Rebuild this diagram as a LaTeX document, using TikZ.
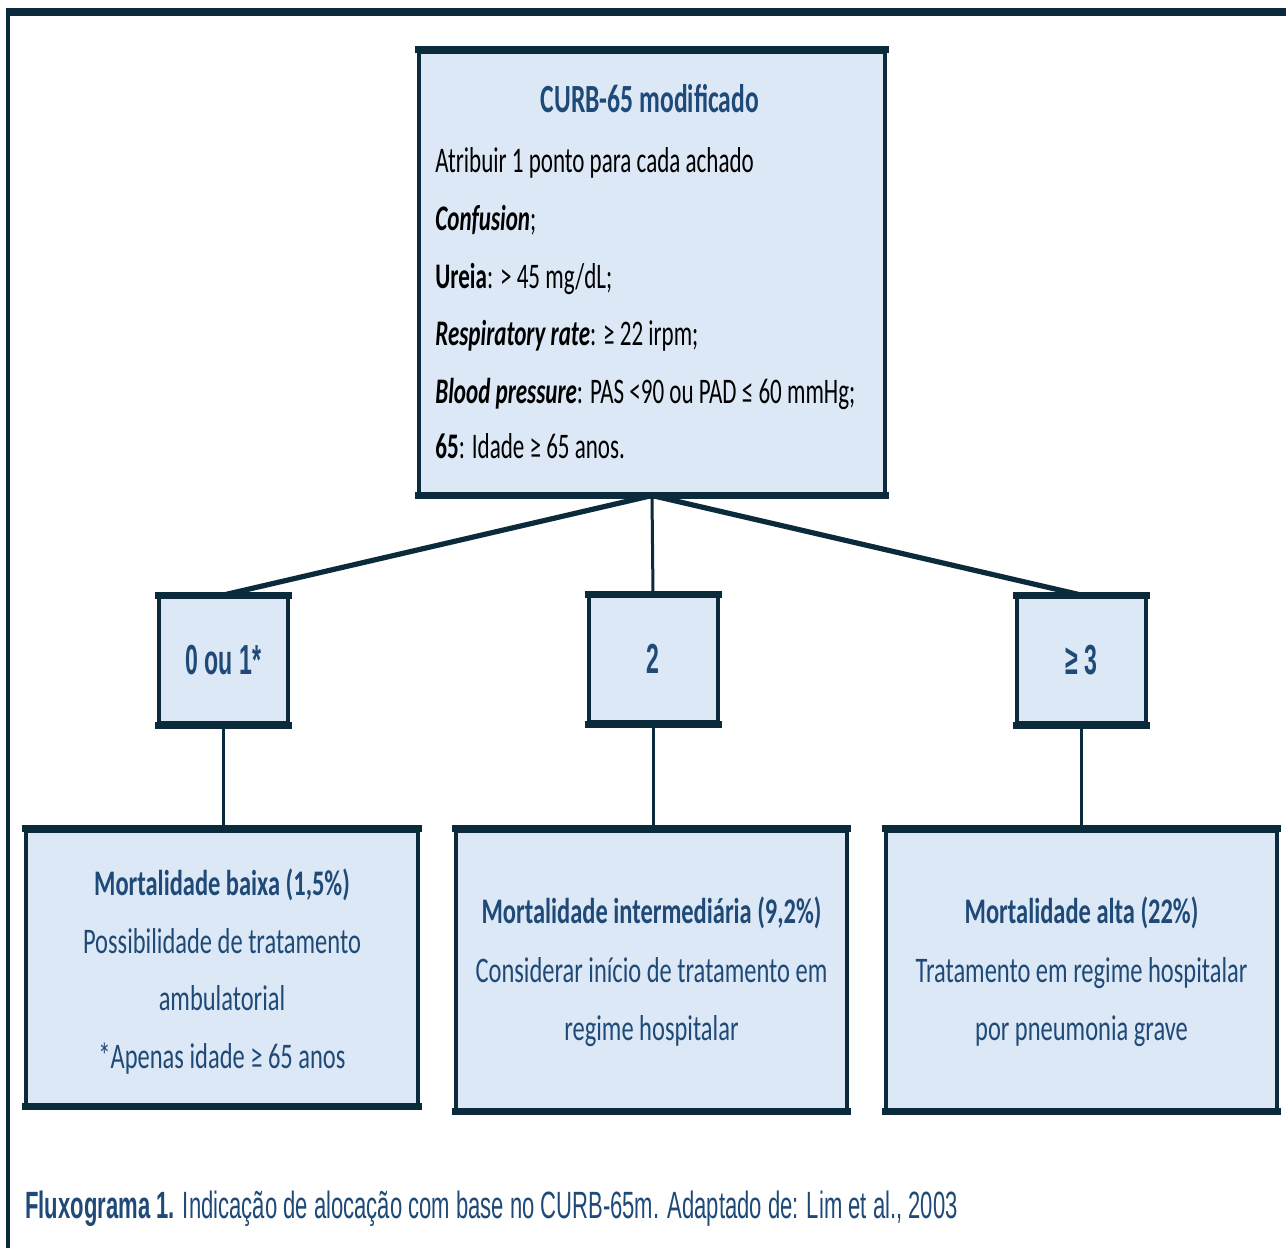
\documentclass[tikz,border=0pt]{standalone}
\usepackage{fontspec}
\setmainfont{Carlito}[FakeStretch=0.64]
\newfontfamily\bfont{Carlito}[FakeStretch=0.68]
\newfontfamily\arialn{Liberation Sans}[FakeStretch=0.55]
\newfontfamily\arialc{Liberation Sans}[FakeStretch=0.58]
\definecolor{navy}{HTML}{0B2A3B}
\definecolor{fillb}{HTML}{DCE8F5}
\definecolor{tblue}{HTML}{1F4A78}
\begin{document}
\begin{tikzpicture}[x=0.5pt,y=-0.5pt,
  box/.style={draw=navy,fill=fillb,line width=2pt,inner sep=0pt},
  hline/.style={draw=navy,line width=3.5pt,shorten <=-1pt,shorten >=-1pt},
  conn/.style={draw=navy,line width=1.5pt},
  diag/.style={draw=navy,line width=2.6pt},
  body/.style={inner sep=0pt,font=\fontsize{18}{20}\selectfont,text=black},
  toptitle/.style={inner sep=0pt,font=\fontsize{20}{22}\selectfont\bfseries,text=tblue},
  ttl/.style={inner sep=0pt,font=\bfont\fontsize{18}{20}\selectfont\bfseries,text=tblue},
  btxt/.style={inner sep=0pt,font=\bfont\fontsize{18}{20}\selectfont,text=tblue},
  lbl/.style={inner sep=0pt,font=\arialn\bfseries\fontsize{21}{24}\selectfont,text=tblue},
  captxt/.style={inner sep=0pt,font=\arialc\fontsize{19}{22}\selectfont,text=tblue}
]
\useasboundingbox (0,0) rectangle (1286,1248);
\fill[white] (0,0) rectangle (1286,1248);
% frame
\draw[navy,line width=4pt] (6,12) -- (1286,12);
\draw[navy,line width=2pt] (8,12) -- (8,1248);
% boxes
\node[box,minimum width=233pt,minimum height=221pt] (top) at (652,272.5) {};
\node[box,minimum width=64.5pt,minimum height=63pt] (s1) at (223.5,660) {};
\node[box,minimum width=64.5pt,minimum height=63pt] (s2) at (653,659) {};
\node[box,minimum width=64.5pt,minimum height=63pt] (s3) at (1081,660) {};
\node[box,minimum width=196pt,minimum height=137pt] (b1) at (222,967.5) {};
\node[box,minimum width=195.5pt,minimum height=139.5pt] (b2) at (651.5,970) {};
\node[box,minimum width=195.5pt,minimum height=139.5pt] (b3) at (1081.5,970) {};
\foreach \n in {top,s1,s2,s3,b1,b2,b3} {
  \draw[hline] (\n.north west) -- (\n.north east);
  \draw[hline] (\n.south west) -- (\n.south east);
}
% connectors
\draw[diag] (top.south) -- (s1.north);
\draw[conn] (top.south) -- (s2.north);
\draw[diag] (top.south) -- (s3.north);
\draw[conn] (s1.south) -- (s1.south |- b1.north);
\draw[conn] (s2.south) -- (s2.south |- b2.north);
\draw[conn] (s3.south) -- (s3.south |- b3.north);
% top box text
\node[toptitle,anchor=base] (t0) at (650,112) {CURB-65 modificado};
\node[body,anchor=base west] (t1) at (435,172) {Atribuir 1 ponto para cada achado};
\node[body,anchor=base west] (t2) at (435,230) {\textbf{\textit{Confusion}};};
\node[body,anchor=base west] (t3) at (435,288) {\textbf{Ureia}: > 45 mg/dL;};
\node[body,anchor=base west] (t4) at (435,345) {\textbf{\textit{Respiratory rate}}: ≥ 22 irpm;};
\node[body,anchor=base west] (t5) at (435,403) {\textbf{\textit{Blood pressure}}: PAS <90 ou PAD ≤ 60 mmHg;};
\node[body,anchor=base west] (t6) at (435,458) {\textbf{65}: Idade ≥ 65 anos.};
% score labels
\node[lbl] (l1) at (s1) {0 ou 1*};
\node[lbl] (l2) at (s2) {2};
\node[lbl] (l3) at (s3) {≥ 3};
% bottom texts
\node[ttl,anchor=base] (a1) at (222,895) {Mortalidade baixa (1,5\%)};
\node[btxt,anchor=base] (a2) at (222,953) {Possibilidade de tratamento};
\node[btxt,anchor=base] (a3) at (222,1010) {ambulatorial};
\node[btxt,anchor=base] (a4) at (222,1068) {*Apenas idade ≥ 65 anos};
\node[ttl,anchor=base] (m1) at (651.5,923) {Mortalidade intermediária (9,2\%)};
\node[btxt,anchor=base] (m2) at (651.5,982) {Considerar início de tratamento em};
\node[btxt,anchor=base] (m3) at (651.5,1040) {regime hospitalar};
\node[ttl,anchor=base] (h1) at (1081.5,923) {Mortalidade alta (22\%)};
\node[btxt,anchor=base] (h2) at (1081.5,982) {Tratamento em regime hospitalar};
\node[btxt,anchor=base] (h3) at (1081.5,1040) {por pneumonia grave};
% caption
\node[captxt,anchor=base west] (cap) at (25,1218) {\textbf{Fluxograma 1.} Indicação de alocação com base no CURB-65m. Adaptado de: Lim et al., 2003};
\end{tikzpicture}
\end{document}
